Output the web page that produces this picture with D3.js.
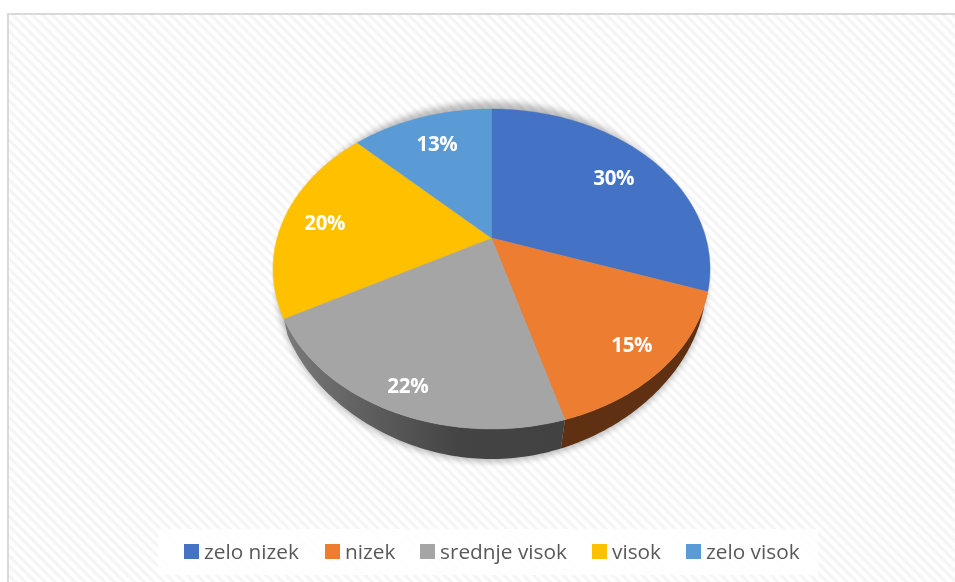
<!DOCTYPE html>
<html><head><meta charset="utf-8">
<script src="https://cdn.jsdelivr.net/npm/d3@7"></script>
<style>html,body{margin:0;padding:0;background:#fff;overflow:hidden}svg{display:block}</style>
</head><body><svg id="c" width="955" height="582"></svg>
<script>
const categories = ["zelo nizek","nizek","srednje visok","visok","zelo visok"];
const values = [30.3,15.2,21.6,20.3,12.6];
const colors = ["#4472C4","#ED7D31","#A5A5A5","#FFC000","#5B9BD5"];
const wallColors = ["none","#5f3112","url(#grayWall)","none","none"];
const labelRadius = [0.75,0.83,0.87,0.81,0.77];
const legendX = [184,325,420,592,686];

const svg = d3.select("#c");
const defs = svg.append("defs");

// background hatch
const pat = defs.append("pattern").attr("id","hatch").attr("width",7).attr("height",7)
  .attr("patternUnits","userSpaceOnUse").attr("patternTransform","rotate(45)");
pat.append("rect").attr("width",7).attr("height",7).attr("fill","#fff");
pat.append("rect").attr("width",7).attr("height",3.2).attr("fill","#f5f5f5");

const wg = defs.append("linearGradient").attr("id","grayWall")
  .attr("gradientUnits","userSpaceOnUse").attr("x1",285).attr("x2",565).attr("y1",0).attr("y2",0);
wg.append("stop").attr("offset",0).attr("stop-color","#7a7a7a");
wg.append("stop").attr("offset",0.3).attr("stop-color","#5e5e5e");
wg.append("stop").attr("offset",0.62).attr("stop-color","#444444");
wg.append("stop").attr("offset",1).attr("stop-color","#424242");

const f = defs.append("filter").attr("id","soft").attr("x","-10%").attr("y","-10%").attr("width","120%").attr("height","125%");
f.append("feGaussianBlur").attr("stdDeviation",3);
const tb = defs.append("filter").attr("id","tb").attr("x","-5%").attr("y","-20%").attr("width","110%").attr("height","140%");
tb.append("feGaussianBlur").attr("stdDeviation",0.35);

svg.append("rect").attr("x",8).attr("y",14).attr("width",960).attr("height",580)
  .attr("fill","url(#hatch)").attr("stroke","#d9d9d9").attr("stroke-width",2);

// perspective disc
const k = 0.1936;
const sx = d3.scaleLinear().domain([0,1]).range([491.5,705.9]);
const sy = d3.scaleLinear().domain([0,1]).range([238,84]);
const project = (theta,r)=>{
  const u=Math.sin(theta)*r, v=Math.cos(theta)*r, w=1+k*v;
  return [sx(u/w), sy(v/w)];
};
// lower rim of the disc
const lower = theta=>{
  const [x,y]=project(theta,1);
  const t=Math.max(0,(y-238)/191);
  return [491.5+(x-491.5)*(0.986-0.05*t*t*t), 1.125*y-23.6];
};
const arcs = d3.pie().sort(null).value(d=>d)(values);
const samples = a => d3.range(0,81).map(i=>a.startAngle+(a.endAngle-a.startAngle)*i/80);
const line = d3.line();

const wallPath = a=>{
  const t=samples(a);
  return line([...t.map(q=>project(q,1)),...t.slice().reverse().map(lower)])+"Z";
};
// soft shadow
svg.append("path").attr("d",line(d3.range(0,241).map(i=>{const p=lower(i/240*2*Math.PI);return [p[0],p[1]+3];}))+"Z")
  .attr("fill","#000").attr("opacity",0.26).attr("filter","url(#soft)");
// walls
svg.append("g").selectAll("path").data(arcs).join("path")
  .attr("d",wallPath).attr("fill",(d,i)=>wallColors[i]);
// top
svg.append("g").selectAll("path").data(arcs).join("path")
  .attr("d",a=>line([project(0,0),...samples(a).map(q=>project(q,1))])+"Z")
  .attr("fill",(d,i)=>colors[i]).attr("stroke",(d,i)=>colors[i]).attr("stroke-width",0.4);
// labels
svg.append("g").attr("filter","url(#tb)").selectAll("text").data(arcs).join("text")
  .attr("x",(a,i)=>project((a.startAngle+a.endAngle)/2,labelRadius[i])[0]+1.5)
  .attr("y",(a,i)=>project((a.startAngle+a.endAngle)/2,labelRadius[i])[1]+1)
  .attr("text-anchor","middle").attr("dominant-baseline","central")
  .attr("font-family","'Open Sans',sans-serif").attr("font-weight",700).attr("font-size",20.5)
  .attr("letter-spacing",-0.3)
  .attr("fill","#fff").text(a=>d3.format(".0f")(a.value)+"%");

// legend
svg.append("rect").attr("x",158).attr("y",529).attr("width",660).attr("height",46).attr("fill","#fff").attr("opacity",0.85);
const lg = svg.append("g").selectAll("g").data(categories).join("g")
  .attr("transform",(d,i)=>`translate(${legendX[i]},544)`);
lg.append("rect").attr("width",15).attr("height",15).attr("fill",(d,i)=>colors[i]);
lg.append("text").attr("x",20).attr("y",15).attr("font-family","'Open Sans',sans-serif")
  .attr("font-size",20.8).attr("fill","#595959").attr("filter","url(#tb)").text(d=>d);
</script></body></html>
